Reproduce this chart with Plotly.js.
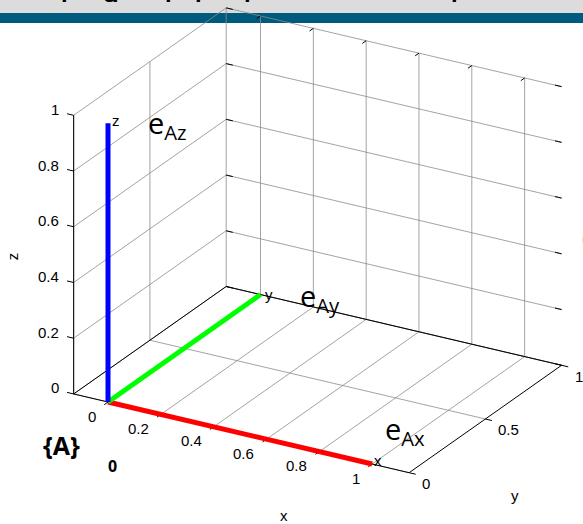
<!DOCTYPE html>
<html>
<head>
<meta charset="utf-8">
<script src="https://cdn.plot.ly/plotly-3.0.1.min.js"></script>
<style>html,body{margin:0;padding:0;background:#fff;}#plot{width:583px;height:524px;}</style>
</head>
<body>
<div id="plot"></div>
<script>
// ---------------- data ----------------
const xTickVals = [0, 0.2, 0.4, 0.6, 0.8, 1];
const xTickText = ['0', '0.2', '0.4', '0.6', '0.8', '1'];
const yTickVals = [0, 0.5, 1];
const yTickText = ['0', '0.5', '1'];
const zTickVals = [0, 0.2, 0.4, 0.6, 0.8, 1];
const zTickText = ['0', '0.2', '0.4', '0.6', '0.8', '1'];
const xLimits = [-0.13, 1.14];
const yLimits = [0, 1];
const zLimits = [0, 1];

const origin = [0, 0, 0];
const eAx = [1, 0, 0];
const eAy = [0, 1, 0];
const eAz = [0, 0, 1];
const vecNames = ['x', 'y', 'z'];
const vecLabels = ['e<sub>Ax</sub>', 'e<sub>Ay</sub>', 'e<sub>Az</sub>'];
const vecColors = ['#ff0000', '#00ff00', '#0000ff'];
const axisTitles = ['x', 'y', 'z'];
const frameName = '<b>{A}</b>';
const originName = '<b>0</b>';
const bannerLetters = ['p', 'g', 'p', 'p', 'p', 'q', 'p'];
const bannerX = [68, 110, 119, 172, 202, 243, 458];

// ------------- view (orthographic, like view(az, el)) -------------
const AZ = 30 * Math.PI / 180, EL = 24 * Math.PI / 180;
function P(p) {
  const [x, y, z] = p;
  return [x * Math.cos(AZ) + y * Math.sin(AZ),
          -x * Math.sin(AZ) * Math.sin(EL) + y * Math.cos(AZ) * Math.sin(EL) + z * Math.cos(EL)];
}
const W = 583, H = 524, PX = 305;         // pixels per data unit
const ORG = [108, 402];                   // pixel position of the data origin
const uRange = [-ORG[0] / PX, (W - ORG[0]) / PX];
const vRange = [-(H - ORG[1]) / PX, ORG[1] / PX];

function segTrace(segs, color, width) {
  const xs = [], ys = [];
  segs.forEach(s => {
    const a = P(s[0]), b = P(s[1]);
    xs.push(a[0], b[0], null); ys.push(a[1], b[1], null);
  });
  return {type: 'scatter', mode: 'lines', x: xs, y: ys, line: {color: color, width: width},
    hoverinfo: 'skip', showlegend: false, cliponaxis: false};
}

const [x0, x1] = xLimits, [y0, y1] = yLimits, [z0, z1] = zLimits;
const grid = [];
xTickVals.forEach(t => { grid.push([[t, y0, z0], [t, y1, z0]]); grid.push([[t, y1, z0], [t, y1, z1]]); });
yTickVals.forEach(t => { grid.push([[x0, t, z0], [x1, t, z0]]); grid.push([[x0, t, z0], [x0, t, z1]]); });
zTickVals.forEach(t => { grid.push([[x0, y1, t], [x1, y1, t]]); grid.push([[x0, y0, t], [x0, y1, t]]); });

const edges = [
  [[x0, y0, z0], [x1, y0, z0]], [[x1, y0, z0], [x1, y1, z0]],
  [[x1, y1, z0], [x0, y1, z0]], [[x0, y1, z0], [x0, y0, z0]],
  [[x0, y0, z0], [x0, y0, z1]]
];
const L = 0.025;
const ticks = [];
xTickVals.forEach(t => { ticks.push([[t, y0, z0], [t, y0 - L, z0]]); ticks.push([[t, y1, z1], [t, y1 - L, z1]]); });
yTickVals.forEach(t => { ticks.push([[x1, t, z0], [x1 + L, t, z0]]); });
zTickVals.forEach(t => {
  ticks.push([[x0, y0, t], [x0 - L, y0, t]]);
  ticks.push([[x0, y1, t], [x0 + L, y1, t]]);
  ticks.push([[x1, y1, t], [x1 - L, y1, t]]);
});

const traces = [segTrace(grid, 'rgb(140,140,140)', 0.8), segTrace(edges, '#000', 1), segTrace(ticks, '#000', 1)];
[eAx, eAy, eAz].forEach((v, i) => traces.push(segTrace([[origin, v]], vecColors[i], 5)));

// ------------- text -------------
const tickFont = {family: 'Liberation Sans, Arial, sans-serif', size: 15, color: '#000'};
const annos = [];
function A(p, text, opts) {
  const q = P(p);
  annos.push(Object.assign({x: q[0], y: q[1], xref: 'x', yref: 'y', text: text, showarrow: false}, opts));
}
xTickVals.forEach((t, i) => A([t, y0, z0], xTickText[i], {xanchor: 'right', yanchor: 'middle', xshift: -10, yshift: -14, font: tickFont}));
yTickVals.forEach((t, i) => A([x1, t, z0], yTickText[i], {xanchor: 'left', yanchor: 'middle', xshift: 11, yshift: -11, font: tickFont}));
zTickVals.forEach((t, i) => A([x0, y0, t], zTickText[i], {xanchor: 'right', yanchor: 'middle', xshift: -13, yshift: 6, font: tickFont}));
A([(x0 + x1) / 2, y0, z0], axisTitles[0], {xanchor: 'center', yanchor: 'middle', xshift: 43, yshift: -82, font: tickFont});
A([x1, (y0 + y1) / 2, z0], axisTitles[1], {xanchor: 'center', yanchor: 'middle', xshift: 30, yshift: -77, font: tickFont});
A([x0, y0, (z0 + z1) / 2], axisTitles[2], {xanchor: 'center', yanchor: 'middle', xshift: -61, yshift: -2, textangle: -90, font: tickFont});
A([x1, y1, (z0 + z1) / 2], axisTitles[2], {xanchor: 'center', yanchor: 'middle', xshift: 24, yshift: -14, textangle: -90, font: tickFont});

const smallFont = {family: 'Liberation Sans, Arial, sans-serif', size: 15, color: '#000'};
const bigFont = {family: 'Open Sans, sans-serif', size: 29, color: '#000'};
const smallShift = [[0, 4], [2, 0], [2, 3]];
const bigShift = [[11, 34], [37, -3], [38, -1]];
[eAx, eAy, eAz].forEach((v, i) => {
  A(v, vecNames[i], {xanchor: 'left', yanchor: 'middle', xshift: smallShift[i][0], yshift: smallShift[i][1], font: smallFont});
  A(v, vecLabels[i], {xanchor: 'left', yanchor: 'middle', xshift: bigShift[i][0], yshift: bigShift[i][1], font: bigFont});
});
A(origin, frameName, {xanchor: 'center', yanchor: 'middle', xshift: -47, yshift: -43,
  font: {family: 'Open Sans, sans-serif', size: 25, color: '#000'}});
A(origin, originName, {xanchor: 'center', yanchor: 'middle', xshift: 4, yshift: -64,
  font: {family: 'Open Sans, sans-serif', size: 16, color: '#000'}});

bannerLetters.forEach((t, i) => annos.push({
  xref: 'paper', yref: 'paper', x: bannerX[i] / W, y: 1, xanchor: 'center', yanchor: 'bottom',
  yshift: -4, text: '<b>' + t + '</b>', showarrow: false,
  font: {family: 'Liberation Sans, Arial, sans-serif', size: 24, color: '#000'}
}));

const layout = {
  width: W, height: H,
  margin: {l: 0, r: 0, t: 0, b: 0},
  paper_bgcolor: '#fff', plot_bgcolor: 'rgba(0,0,0,0)',
  showlegend: false,
  xaxis: {range: uRange, visible: false, fixedrange: true},
  yaxis: {range: vRange, visible: false, fixedrange: true},
  shapes: [
    {type: 'rect', xref: 'paper', yref: 'paper', x0: 0, x1: 1, y0: 1 - 13 / H, y1: 1,
      fillcolor: '#dcdcdc', line: {width: 0}, layer: 'below'},
    {type: 'rect', xref: 'paper', yref: 'paper', x0: 0, x1: 1, y0: 1 - 23 / H, y1: 1 - 13 / H,
      fillcolor: '#005a7d', line: {width: 0}, layer: 'below'}
  ],
  annotations: annos
};

Plotly.newPlot('plot', traces, layout, {displayModeBar: false, staticPlot: true});
</script>
</body>
</html>
